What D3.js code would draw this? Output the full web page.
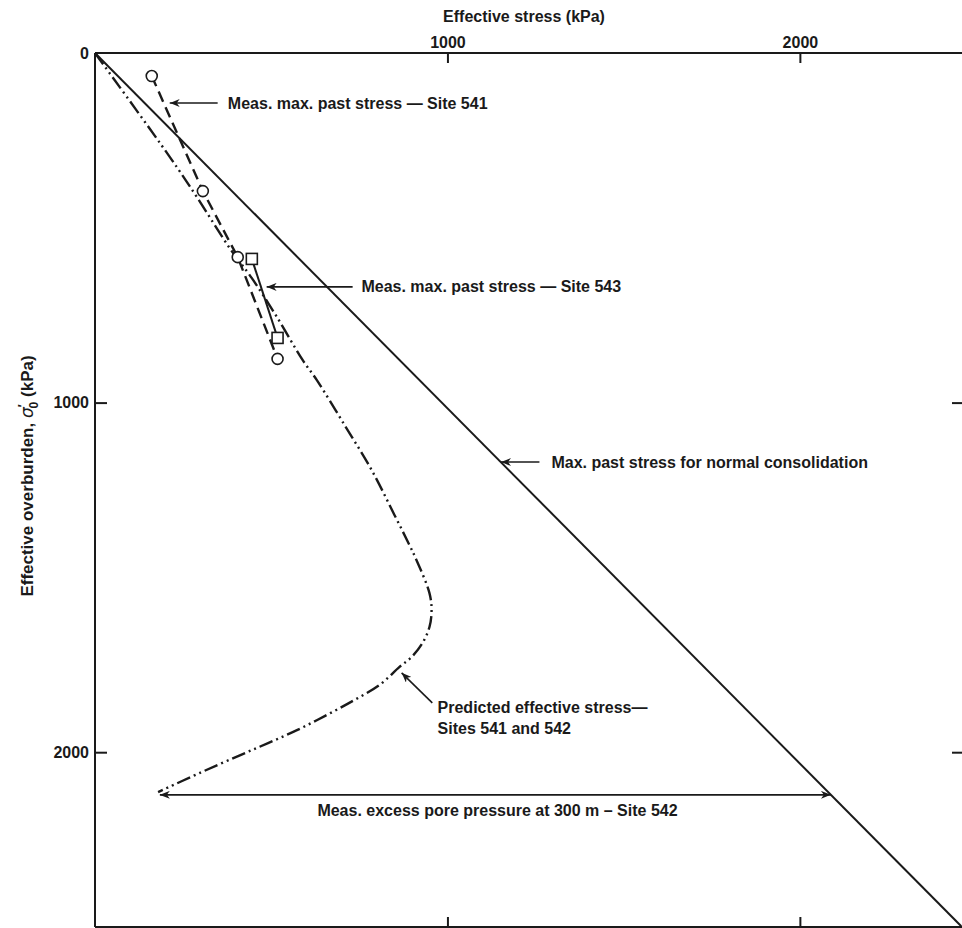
<!DOCTYPE html>
<html>
<head>
<meta charset="utf-8">
<script src="https://cdn.jsdelivr.net/npm/d3@7"></script>
<style>
  body { margin: 0; background: #fff; }
  text { font-family: "Liberation Sans", Arial, sans-serif; font-weight: bold; fill: #1a1a1a; }
</style>
</head>
<body>
<svg id="chart" width="962" height="928"></svg>
<script>
// values (kPa)
const xTicks = [1000, 2000]
const yTicks = [0, 1000, 2000]

// predicted effective stress, sites 541 and 542
const predStress     = [0, 212, 289, 382, 445, 516, 589, 629, 708, 785, 850, 892, 912, 949, 955, 949, 929, 898, 864, 807, 732, 653, 573, 491, 406, 298, 179]
const predOverburden = [0, 297, 412, 558, 644, 755, 878, 935, 1064, 1193, 1322, 1407, 1450, 1545, 1593, 1642, 1688, 1728, 1756, 1808, 1853, 1896, 1937, 1974, 2011, 2059, 2114]

// measured max. past stress
const site541Stress     = [161, 306, 405, 518]
const site541Overburden = [66, 395, 584, 875]
const site543Stress     = [445, 518]
const site543Overburden = [589, 815]

// normal consolidation line
const normalStress     = [0, 2460]
const normalOverburden = [0, 2500]

// excess pore pressure at 300 m (site 542)
const poreOverburden = 2122
const poreFrom = 184
const poreTo = 2088

const svg = d3.select('#chart')
const x = d3.scaleLinear().domain([0, 2460]).range([95, 962])
const y = d3.scaleLinear().domain([0, 2500]).range([53, 927])

// defs: arrow head
svg.append('defs').append('marker')
    .attr('id', 'head')
    .attr('viewBox', '0 0 10 8')
    .attr('refX', 10).attr('refY', 4)
    .attr('markerWidth', 10).attr('markerHeight', 8)
    .attr('markerUnits', 'userSpaceOnUse')
    .attr('orient', 'auto-start-reverse')
  .append('path')
    .attr('d', 'M0,0 L10,4 L0,8 L3,4 Z')
    .attr('fill', '#1a1a1a')

// frame
const frame = svg.append('g').attr('stroke', '#1a1a1a').attr('stroke-width', 2)
frame.append('line').attr('x1', x(0)).attr('x2', x(2460)).attr('y1', y(0)).attr('y2', y(0))
frame.append('line').attr('x1', x(0)).attr('x2', x(0)).attr('y1', y(0)).attr('y2', y(2500))
frame.append('line').attr('x1', x(0)).attr('x2', x(2460)).attr('y1', y(2500)).attr('y2', y(2500))

function styleAxis(g) {
  g.select('.domain').remove()
  g.selectAll('.tick line').attr('stroke', '#1a1a1a').attr('stroke-width', 2)
  g.selectAll('.tick text').attr('font-size', 16).attr('fill', '#1a1a1a')
}

// top axis with labels
svg.append('g')
    .attr('transform', `translate(0,${y(0)})`)
    .call(d3.axisTop(x).tickValues(xTicks).tickSizeInner(-10).tickSizeOuter(0).tickPadding(5).tickFormat(d3.format('d')))
    .call(styleAxis)
    .attr('font-family', null)

// bottom axis ticks
svg.append('g')
    .attr('transform', `translate(0,${y(2500)})`)
    .call(d3.axisBottom(x).tickValues(xTicks).tickSizeInner(-10).tickSizeOuter(0).tickFormat(''))
    .call(styleAxis)

// left axis with labels
const left = svg.append('g')
    .attr('transform', `translate(${x(0)},0)`)
    .call(d3.axisLeft(y).tickValues(yTicks).tickSizeInner(-12).tickSizeOuter(0).tickPadding(6).tickFormat(d3.format('d')))
    .call(styleAxis)
    .attr('font-family', null)
left.selectAll('.tick').filter(d => d === 0).select('line').remove()

// right axis ticks
svg.append('g')
    .attr('transform', `translate(${x(2460)},0)`)
    .call(d3.axisRight(y).tickValues([1000, 2000]).tickSizeInner(-10).tickSizeOuter(0).tickFormat(''))
    .call(styleAxis)

// axis titles
svg.append('text')
    .attr('x', 524).attr('y', 22)
    .attr('text-anchor', 'middle')
    .attr('font-size', 16)
    .text('Effective stress (kPa)')

const yt = svg.append('text')
    .attr('transform', 'translate(33,476) rotate(-90)')
    .attr('text-anchor', 'middle')
    .attr('font-size', 17)
yt.append('tspan').text('Effective overburden, ')
yt.append('tspan').attr('font-style', 'italic').attr('font-family', 'DejaVu Sans').attr('font-weight', 'normal').text('σ')
yt.append('tspan').attr('font-size', 12).attr('dy', -6).text('′')
yt.append('tspan').attr('font-size', 12).attr('dx', -4).attr('dy', 11).text('0')
yt.append('tspan').attr('dy', -5).text(' (kPa)')

// lines
const line = d3.line().x(d => x(d[0])).y(d => y(d[1]))

svg.append('path')
    .attr('d', line(d3.zip(normalStress, normalOverburden)))
    .attr('fill', 'none').attr('stroke', '#1a1a1a').attr('stroke-width', 2)

svg.append('path')
    .attr('d', line.curve(d3.curveCatmullRom)(d3.zip(predStress, predOverburden)))
    .attr('fill', 'none').attr('stroke', '#1a1a1a').attr('stroke-width', 2.4)
    .attr('stroke-dasharray', '14,4,2,4,2,4')
line.curve(d3.curveLinear)

svg.append('path')
    .attr('d', line(d3.zip(site541Stress, site541Overburden)))
    .attr('fill', 'none').attr('stroke', '#1a1a1a').attr('stroke-width', 2.4)
    .attr('stroke-dasharray', '11,6')

svg.append('path')
    .attr('d', line(d3.zip(site543Stress, site543Overburden)))
    .attr('fill', 'none').attr('stroke', '#1a1a1a').attr('stroke-width', 2)

// markers
svg.append('g').selectAll('circle')
  .data(d3.zip(site541Stress, site541Overburden))
  .join('circle')
    .attr('cx', d => x(d[0])).attr('cy', d => y(d[1])).attr('r', 5.5)
    .attr('fill', '#fff').attr('stroke', '#1a1a1a').attr('stroke-width', 1.6)

svg.append('g').selectAll('rect')
  .data(d3.zip(site543Stress, site543Overburden))
  .join('rect')
    .attr('x', d => x(d[0]) - 5.5).attr('y', d => y(d[1]) - 5.5)
    .attr('width', 11).attr('height', 11)
    .attr('fill', '#fff').attr('stroke', '#1a1a1a').attr('stroke-width', 1.6)

// annotations (data coords: tip, tail, text)
const notes = [
  { tip: [212, 143], tail: [348, 143], text: [377, 143], label: 'Meas.  max.  past stress \u2014 Site 541' },
  { tip: [487, 669], tail: [731, 669], text: [756, 669], label: 'Meas.  max.  past stress \u2014 Site 543' },
  { tip: [1152, 1170], tail: [1261, 1170], text: [1295, 1170], label: 'Max. past stress for normal consolidation' },
  { tip: [870, 1773], tail: [957, 1859], text: [972, 1871], label: 'Predicted effective stress\u2014' }
]

const ann = svg.append('g')
notes.forEach(n => {
  ann.append('line')
      .attr('x1', x(n.tail[0])).attr('y1', y(n.tail[1]))
      .attr('x2', x(n.tip[0])).attr('y2', y(n.tip[1]))
      .attr('stroke', '#1a1a1a').attr('stroke-width', 1.6)
      .attr('marker-end', 'url(#head)')
  ann.append('text')
      .attr('x', x(n.text[0])).attr('y', y(n.text[1]))
      .attr('dy', '0.35em')
      .attr('font-size', 16)
      .text(n.label)
})
ann.append('text')
    .attr('x', x(972)).attr('y', y(1871) + 21)
    .attr('dy', '0.35em')
    .attr('font-size', 16)
    .text('Sites 541 and 542')

// pore pressure double arrow
ann.append('line')
    .attr('x1', x(poreFrom)).attr('x2', x(poreTo))
    .attr('y1', y(poreOverburden)).attr('y2', y(poreOverburden))
    .attr('stroke', '#1a1a1a').attr('stroke-width', 1.6)
    .attr('marker-start', 'url(#head)')
    .attr('marker-end', 'url(#head)')
ann.append('text')
    .attr('x', x(1142)).attr('y', y(poreOverburden) + 16)
    .attr('dy', '0.35em')
    .attr('text-anchor', 'middle')
    .attr('font-size', 16)
    .text('Meas. excess pore pressure at 300 m \u2013 Site 542')
</script>
</body>
</html>
